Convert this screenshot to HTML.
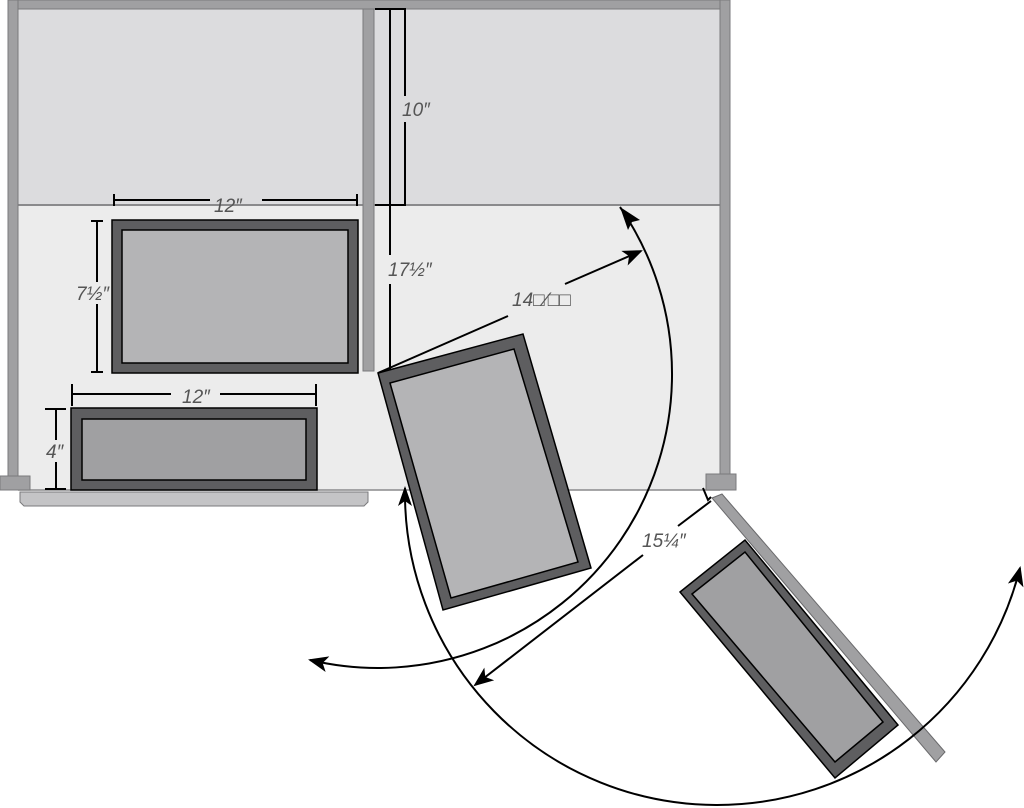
<!DOCTYPE html>
<html><head><style>body{margin:0;background:#fff;overflow:hidden}svg{display:block}
text{font-family:"Liberation Sans","DejaVu Sans",sans-serif;font-style:italic;fill:#555;font-size:19px}</style></head>
<body>
<svg width="1024" height="808" viewBox="0 0 1024 808" xmlns="http://www.w3.org/2000/svg">
<defs>
<marker id="b" markerWidth="20" markerHeight="16" refX="18" refY="8" orient="auto" markerUnits="userSpaceOnUse" viewBox="0 0 20 16"><path d="M0,0L20,8L0,16L5,8z" fill="#000"/></marker>
</defs>
<rect x="18" y="8" width="702" height="197" fill="#dcdcde"/>
<rect x="18" y="205" width="702" height="285" fill="#ececec"/>
<line x1="18" y1="205" x2="720" y2="205" stroke="#8a8a8c" stroke-width="2"/>
<line x1="18" y1="490" x2="720" y2="490" stroke="#8a8a8c" stroke-width="1.5"/>
<rect x="8" y="0" width="722" height="9" fill="#a0a0a2" stroke="#7a7a7c"/>
<rect x="8" y="0" width="10" height="478" fill="#a0a0a2" stroke="#7a7a7c"/>
<rect x="720" y="0" width="10" height="476" fill="#a0a0a2" stroke="#7a7a7c"/>
<rect x="363" y="9" width="11" height="362" fill="#a0a0a2" stroke="#7a7a7c"/>
<rect x="0" y="476" width="30" height="14" fill="#a0a0a2" stroke="#7a7a7c"/>
<rect x="706" y="474" width="30" height="16" fill="#a0a0a2" stroke="#7a7a7c"/>
<path d="M20,492H368V502L364,506H24L20,502Z" fill="#c4c4c6" stroke="#7a7a7c"/>
<path d="M375,9H405V96M405,122V205H375" fill="none" stroke="#000" stroke-width="2"/>
<line x1="390" y1="9" x2="390" y2="255" stroke="#000" stroke-width="2"/>
<line x1="390" y1="284" x2="390" y2="372" stroke="#000" stroke-width="2"/>
<text x="402" y="116">10″</text>
<text x="388" y="276">17½″</text>
<rect x="112" y="220" width="246" height="153" fill="#5e5e60" stroke="#000" stroke-width="1.5"/>
<rect x="122" y="230" width="226" height="133" fill="#b4b4b6" stroke="#000" stroke-width="1.5"/>
<path d="M114,194V206M357,194V206M114,200H210M262,200H357" stroke="#000" stroke-width="2" fill="none"/>
<text x="214" y="212">12″</text>
<path d="M91,221H103M91,372H103M97,221V282M97,304V372" stroke="#000" stroke-width="2" fill="none"/>
<text x="76" y="300">7½″</text>
<rect x="71" y="408" width="246" height="82" fill="#5e5e60" stroke="#000" stroke-width="1.5"/>
<rect x="82" y="419" width="224" height="61" fill="#a0a0a2" stroke="#000" stroke-width="1.5"/>
<path d="M72,384V406M316,384V406M72,394H171M220,394H316" stroke="#000" stroke-width="2" fill="none"/>
<text x="182" y="403">12″</text>
<path d="M45,409H66M45,489H66M56,409V440M56,462V489" stroke="#000" stroke-width="2" fill="none"/>
<text x="46" y="458">4″</text>
<polygon points="378,373 523,334 591,568 443,610" fill="#5e5e60" stroke="#000" stroke-width="1.5"/>
<polygon points="390,383 514,349 578,562 451,598" fill="#b4b4b6" stroke="#000" stroke-width="1.5"/>
<line x1="378" y1="373" x2="508" y2="316" stroke="#000" stroke-width="2"/>
<line x1="565" y1="284" x2="641" y2="251" stroke="#000" stroke-width="2" marker-end="url(#b)"/>
<text x="512" y="306">14□⁄□□</text>
<polygon points="712,498 722,494 945,752 936,762" fill="#a0a0a2" stroke="#6a6a6c"/>
<polygon points="680,592 745,540 898,725 835,778" fill="#5e5e60" stroke="#000" stroke-width="1.5"/>
<polygon points="692,594 745,552 883,722 835,762" fill="#a0a0a2" stroke="#000" stroke-width="1.5"/>
<path d="M703,488L708,500L711,497" stroke="#000" stroke-width="2" fill="none"/>
<line x1="711" y1="501" x2="678" y2="526" stroke="#000" stroke-width="2"/>
<line x1="643" y1="555" x2="475" y2="685" stroke="#000" stroke-width="2" marker-end="url(#b)"/>
<text x="642" y="547">15¼″</text>
<path d="M620,207 A294,294 0 0 1 310,660" fill="none" stroke="#000" stroke-width="2" marker-end="url(#b)"/>
<path d="M620,207 L640,220 L632,222 L628,230Z" fill="#000"/>
<path d="M405,488 A312,312 0 0 0 716,805 A312,312 0 0 0 1020,568" fill="none" stroke="#000" stroke-width="2" marker-end="url(#b)"/>
<path d="M405,486 L398,506 L405,501 L412,506Z" fill="#000"/>
</svg>
</body></html>
